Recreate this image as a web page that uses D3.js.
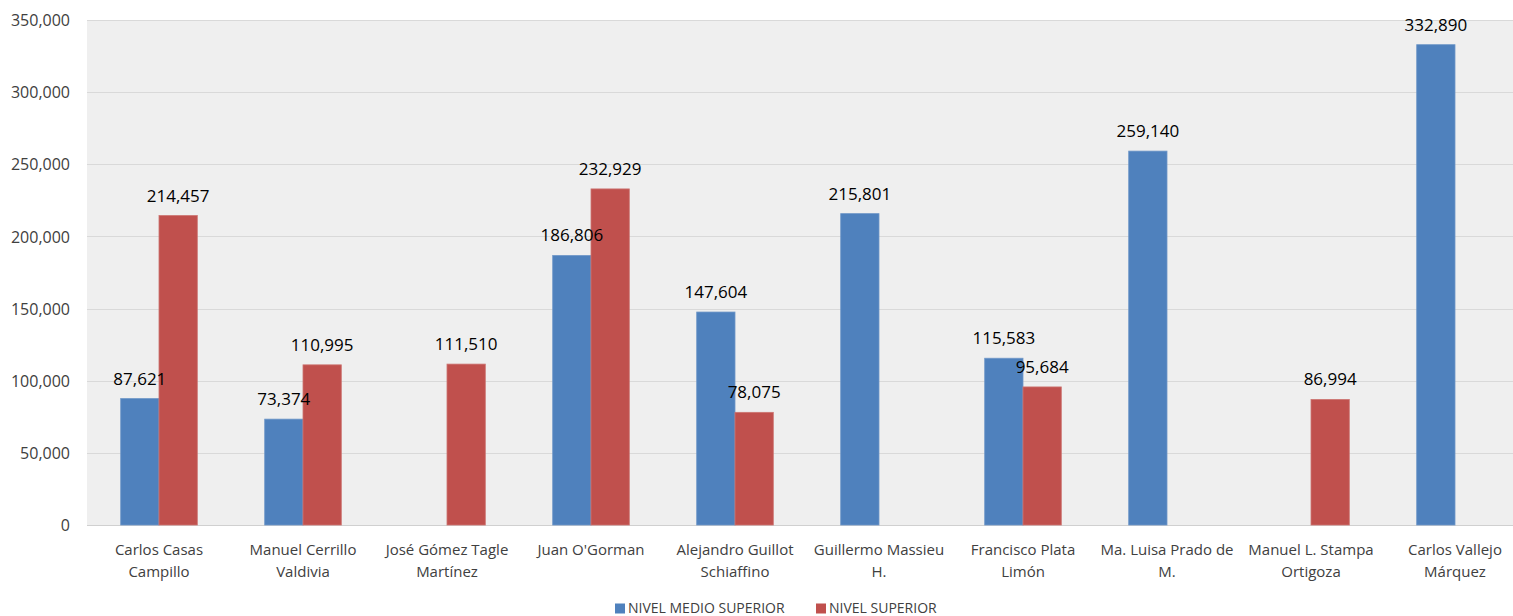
<!DOCTYPE html>
<html><head><meta charset="utf-8">
<script src="https://cdn.jsdelivr.net/npm/d3@7"></script>
<style>
html,body{margin:0;padding:0;background:#fff;overflow:hidden;}
svg{display:block;font-family:"Open Sans",sans-serif;}
</style></head>
<body>
<svg id="chart" width="1513" height="616"></svg>
<script>
const categories = [
  ["Carlos Casas","Campillo"],
  ["Manuel Cerrillo","Valdivia"],
  ["José Gómez Tagle","Martínez"],
  ["Juan O'Gorman"],
  ["Alejandro Guillot","Schiaffino"],
  ["Guillermo Massieu","H."],
  ["Francisco Plata","Limón"],
  ["Ma. Luisa Prado de","M."],
  ["Manuel L. Stampa","Ortigoza"],
  ["Carlos Vallejo","Márquez"]
];
const seriesNames = ["NIVEL MEDIO SUPERIOR","NIVEL SUPERIOR"];
const medioSuperior = [87621, 73374, null, 186806, 147604, 215801, 115583, 259140, null, 332890];
const superior = [214457, 110995, 111510, 232929, 78075, null, 95684, null, 86994, null];
const yTicks = [0,50000,100000,150000,200000,250000,300000,350000];
const colors = ["#4F81BD","#C0504D"];

const svg = d3.select("#chart");
const pLeft = 87, pRight = 1527, pTop = 20, pBottom = 525;

const x = d3.scaleBand().domain(d3.range(categories.length)).range([pLeft, pRight]).paddingInner(0).paddingOuter(0);
const y = d3.scaleLinear().domain([0,350000]).range([pBottom, pTop]);
const barW = 38.3;
const sub = d3.scaleBand().domain([0,1]).range([0, barW*2]);

svg.append("rect").attr("x", pLeft).attr("y", pTop).attr("width", pRight-pLeft).attr("height", pBottom-pTop).attr("fill","#efefef");

// grid
svg.append("g").selectAll("line").data(yTicks).join("line")
  .attr("x1", pLeft).attr("x2", pRight)
  .attr("y1", d=>Math.round(y(d))+0.5).attr("y2", d=>Math.round(y(d))+0.5)
  .attr("stroke", d=> d===0 ? "#d0d0d0" : "#d9d9d9").attr("stroke-width",1);

// y axis labels
const yAxis = d3.axisLeft(y).tickValues(yTicks).tickFormat(d3.format(",")).tickSize(0).tickPadding(0);
const ya = svg.append("g").attr("transform",`translate(70,0)`).call(yAxis);
ya.select(".domain").remove();
ya.selectAll("text").attr("font-size","16px").attr("fill","#404040").attr("font-family","Open Sans").attr("dy","0.35em");

const series = [medioSuperior, superior];
const barsG = svg.append("g");
const labelsG = svg.append("g");
series.forEach((vals, si) => {
  const data = vals.map((v,i)=>({v,i})).filter(d=>d.v!==null);
  barsG.append("g").selectAll("rect").data(data).join("rect")
    .attr("x", d => x(d.i) + (x.bandwidth()-barW*2)/2 + sub(si))
    .attr("width", barW)
    .attr("y", d => y(d.v))
    .attr("height", d => y(0)-y(d.v))
    .attr("fill", colors[si])
    .attr("stroke", si===0 ? "#6f97c8" : "#cc7471").attr("stroke-width",0.8);
  labelsG.append("g").selectAll("text").data(data).join("text")
    .attr("x", d => x(d.i) + (x.bandwidth()-barW*2)/2 + sub(si) + barW/2)
    .attr("y", d => y(d.v) - 14)
    .attr("text-anchor","middle")
    .attr("font-size","17px").attr("fill","#000")
    .text(d => d3.format(",")(d.v));
});

// x labels
const xl = svg.append("g");
categories.forEach((lines, i) => {
  const t = xl.append("text").attr("text-anchor","middle").attr("font-size","15px").attr("fill","#404040");
  lines.forEach((ln, k) => {
    t.append("tspan").attr("x", x(i)+x.bandwidth()/2).attr("y", 555 + k*21.5).text(ln);
  });
});

// legend
const legX = [615, 816];
seriesNames.forEach((n, i) => {
  svg.append("rect").attr("x", legX[i]).attr("y", 603.5).attr("width", 10).attr("height", 10).attr("fill", colors[i]);
  svg.append("text").attr("x", legX[i]+13).attr("y", 613).attr("font-size","14px").attr("fill","#404040").text(n);
});
</script>
</body></html>
